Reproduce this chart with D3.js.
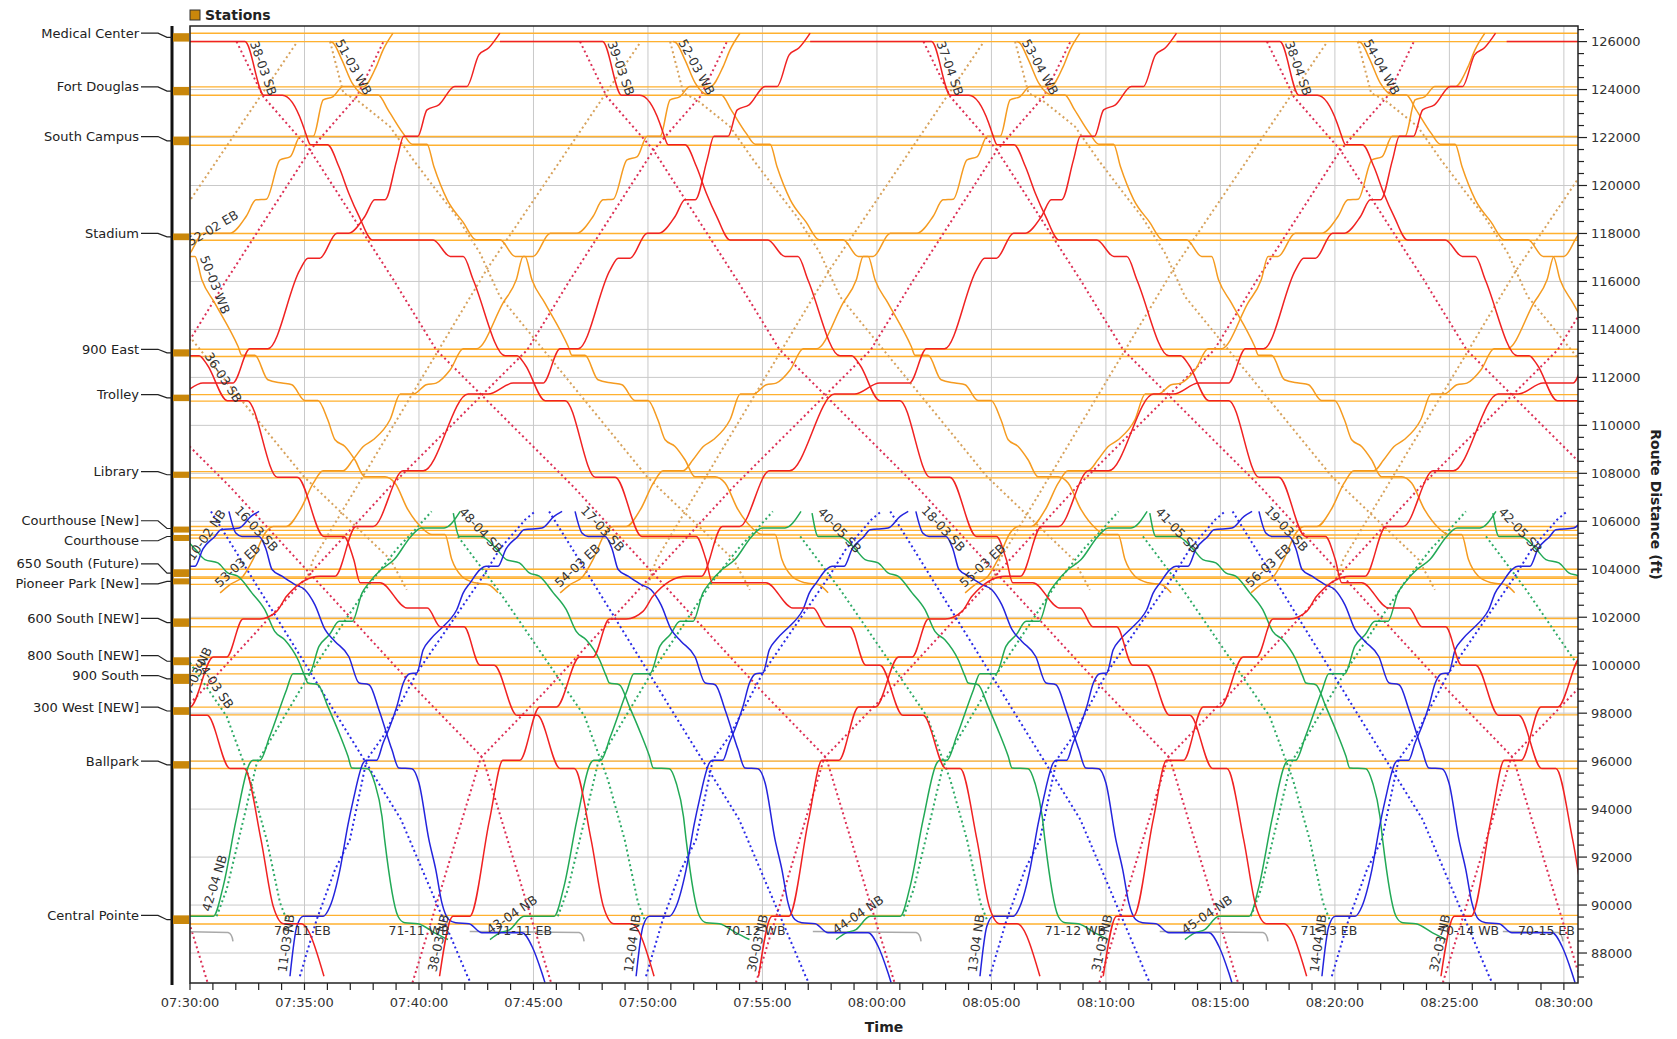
<!DOCTYPE html>
<html><head><meta charset="utf-8">
<script src="https://cdn.jsdelivr.net/npm/d3@7"></script>
<style>
body{margin:0;background:#fff;}
text{font-family:"DejaVu Sans",Verdana,sans-serif;}
</style></head><body>
<svg id="chart" width="1677" height="1039"></svg>
<script>
// ---------------- stations (route distance of the two platform ends, ft) ----------------
const stations = [
  {name:"Medical Center",      top:126350, bottom:126000},
  {name:"Fort Douglas",        top:124110, bottom:123760},
  {name:"South Campus",        top:122040, bottom:121680},
  {name:"Stadium",             top:118000, bottom:117720},
  {name:"900 East",            top:113170, bottom:112870},
  {name:"Trolley",             top:111280, bottom:111010},
  {name:"Library",             top:108070, bottom:107810},
  {name:"Courthouse [New]",    top:105780, bottom:105620},
  {name:"Courthouse",          top:105430, bottom:105300},
  {name:"650 South (Future)",  top:104000, bottom:103680},
  {name:"Pioneer Park [New]",  top:103620, bottom:103370},
  {name:"600 South [NEW]",     top:101950, bottom:101600},
  {name:"800 South [NEW]",     top:100330, bottom:100000},
  {name:"900 South",           top:99640,  bottom:99220},
  {name:"300 West [NEW]",      top:98250,  bottom:97930},
  {name:"Ballpark",            top:96000,  bottom:95690},
  {name:"Central Pointe",      top:89570,  bottom:89210}
];

// axis ticks
const distanceTicks = [88000,90000,92000,94000,96000,98000,100000,102000,104000,106000,108000,
  110000,112000,114000,116000,118000,120000,122000,124000,126000];
const timeTicks = ["07:30:00","07:35:00","07:40:00","07:45:00","07:50:00","07:55:00","08:00:00",
  "08:05:00","08:10:00","08:15:00","08:20:00","08:25:00","08:30:00"];

// ---------------- running profiles: [seconds after trip start, route distance ft] ----------------
const redSB = [[0,126000],[50,123760],[98,123760],[150,122600],[159,122180],[172,121700],[216,121700],
  [246,120790],[272,119680],[299,118710],[334,117730],[433,117730],[478,117040],[512,117040],[538,116070],
  [622,112900],[653,112900],[674,112525],[727,111030],[779,111030],[858,107840],[910,107840],[980,105370],
  [1032,105370],[1058,104405],[1075,103434],[1127,103434],[1198,102384],[1251,102384],[1285,101600],
  [1347,101600],[1389,100000],[1426,100000],[1486,97910],[1539,97910],[1599,95690],[1636,95690],
  [1680,92728],[1712,89948],[1740,89216],[1785,89216],[1845,87032]];
const redNB = [[0,87032],[35,89533],[79,89533],[131,93561],[166,96032],[210,96032],[262,98259],[306,98259],
  [367,100338],[402,100338],[445,101929],[489,101929],[533,102246],[559,102872],[647,103709],[686,103709],
  [741,105784],[786,105784],[865,108106],[917,108106],[1035,111304],[1087,111304],[1153,111762],[1231,111762],
  [1276,113192],[1323,113192],[1407,116485],[1428,116972],[1459,116972],[1504,118014],[1535,118014],
  [1577,118706],[1603,119402],[1630,119402],[1661,121069],[1679,122053],[1716,122053],[1740,123153],
  [1771,123362],[1813,124124],[1844,124124],[1876,125446],[1902,125740],[1931,126350]];
const orangeWB = [[0,126000],[8,125946],[31,125237],[58,124266],[92,123778],[126,123778],[152,123153],
  [191,122182],[215,121724],[254,121724],[272,120790],[307,119402],[348,118485],[383,117735],[445,117735],
  [485,117039],[511,117039],[529,116068],[563,115096],[624,113288],[634,112920],[668,112920],[702,111900],
  [739,111762],[765,111691],[799,111040],[833,111040],[859,110232],[878,109398],[904,109119],[930,108565],
  [956,107860],[1009,107860],[1035,107593],[1069,106482],[1106,105718],[1132,105450],[1166,105450],
  [1184,104405],[1210,103709],[1245,103434],[1279,103362],[1305,103016]];
const orangeEB = [[0,103016],[26,103362],[60,103709],[86,104405],[118,105510],[139,105784],[173,105784],
  [210,106482],[244,107593],[270,108106],[322,108106],[348,108565],[375,109119],[401,109398],[445,110232],
  [472,111304],[506,111304],[540,111691],[566,111762],[603,112317],[637,113192],[671,113192],[741,115096],
  [776,116068],[794,117039],[820,117039],[865,118014],[935,118014],[977,118706],[1003,119402],[1030,119430],
  [1066,121069],[1093,121207],[1119,122053],[1153,122053],[1179,123570],[1205,123708],[1231,124124],
  [1284,124124],[1318,124958],[1336,125654],[1362,126350]];
const greenNB = [[0,88562],[26,88841],[52,88979],[89,89533],[168,89533],[194,90781],[228,93561],[264,95924],
  [272,96032],[290,96032],[316,97034],[360,98980],[377,99646],[419,99646],[445,100783],[472,101267],
  [498,101829],[532,101829],[558,103016],[576,103434],[608,103987],[642,104405],[686,105369],[713,105718],
  [773,105718],[815,106411]];
const greenSB = [[0,106345],[16,105369],[73,105369],[113,104849],[139,104405],[173,104264],[199,103847],
  [225,103709],[262,103016],[296,102313],[322,101408],[348,101061],[383,100228],[401,99533],[409,99258],
  [435,99188],[461,98284],[487,97314],[514,96201],[524,95716],[566,95687],[584,95091],[603,93699],
  [610,92728],[645,89533],[663,89258],[697,89216],[741,88841],[776,88562]];
const blueNB = [[0,87032],[18,89116],[35,89533],[87,89533],[105,89948],[131,91478],[152,93353],[166,94395],
  [192,95924],[199,96032],[227,96032],[244,96759],[262,97451],[280,98284],[297,99258],[314,99646],
  [332,99675],[349,100644],[367,101061],[402,101621],[419,101900],[437,102313],[454,103016],[472,103434],
  [498,103987],[514,104124],[545,104124],[566,104849],[597,105369],[613,105647],[660,105718],[692,106203],
  [713,106411]];
const blueSB = [[0,106411],[18,105510],[34,105369],[79,105369],[97,104849],[113,103987],[139,103709],
  [173,103362],[199,103146],[225,102527],[252,101480],[278,100990],[314,100364],[341,99258],[367,99188],
  [393,98147],[427,96481],[445,95716],[479,95687],[498,95091],[524,92728],[542,91478],[558,90090],
  [576,89395],[594,89258],[629,89216],[663,88841],[768,88841],[794,88283],[820,87174],[828,86770]];

// scheduled (planned) running, no dwell
const redSBPlan = [[0,126000],[70,123708],[192,121486],[411,116068],[523,113150],[882,107453],[1380,98850],
  [1545,96140],[1668,89680],[1724,86770]];
const redNBPlan = [[0,86770],[56,89680],[179,96140],[344,98850],[842,107453],[1201,113150],[1313,116068],
  [1532,121486],[1654,123708],[1724,126000]];
const orangeWBPlan = [[0,126000],[35,123849],[70,123570],[157,122457],[218,121069],[271,119956],[332,118706],
  [393,117181],[445,115372],[830,107869],[1057,104405],[1100,103146]];
const orangeEBPlan = [[0,103146],[26,104405],[480,116485],[882,125946]];
const greenNBPlan = [[0,89533],[26,90644],[70,93561],[105,95924],[244,99646],[402,103434],[472,104849],
  [524,105718],[563,106411]];
const greenSBPlan = [[0,105369],[105,103146],[332,97868],[393,95230],[437,92728],[472,90090],[489,89395]];
const blueNBPlan = [[0,87032],[44,89395],[92,91478],[131,92728],[175,96062],[218,97034],[306,99675],
  [480,103709],[524,104849],[590,106063],[616,106411]];
const blueSBPlan = [[0,106411],[61,104849],[498,93561],[672,87032],[680,86770]];

// ---------------- trips ----------------
// holds: [profile point index, extra dwell seconds]
const redTrips = [
  {id:null,       dir:"SB", start:"07:05:06"},
  {id:"36-03 SB", dir:"SB", start:"07:19:31"},
  {id:"38-03 SB", dir:"SB", start:"07:32:24", layover:"07:20:00", holds:[[11,60],[23,90],[26,88]]},
  {id:"39-03 SB", dir:"SB", start:"07:48:01", layover:"07:43:32"},
  {id:"37-04 SB", dir:"SB", start:"08:02:23", layover:"07:57:05"},
  {id:"38-04 SB", dir:"SB", start:"08:17:36", layover:"08:13:05"},
  {id:null,       dir:"SB", start:"08:33:00", layover:"08:27:30"},
  {id:null,       dir:"NB", start:"07:11:21"},
  {id:"37-03 NB", dir:"NB", start:"07:24:54"},
  {id:"38-03 NB", dir:"NB", start:"07:40:54"},
  {id:"30-03 NB", dir:"NB", start:"07:54:50"},
  {id:"31-03 NB", dir:"NB", start:"08:09:53"},
  {id:"32-03 NB", dir:"NB", start:"08:24:38"}
];
const orangeTrips = [
  {id:"50-03 WB", dir:"WB", start:"07:21:42"},
  {id:"51-03 WB", dir:"WB", start:"07:36:07"},
  {id:"52-03 WB", dir:"WB", start:"07:51:06"},
  {id:"53-04 WB", dir:"WB", start:"08:06:06"},
  {id:"54-04 WB", dir:"WB", start:"08:21:01"},
  {id:"52-02 EB", dir:"EB", start:"07:16:10"},
  {id:"53-03 EB", dir:"EB", start:"07:31:19"},
  {id:"54-03 EB", dir:"EB", start:"07:46:10"},
  {id:"55-03 EB", dir:"EB", start:"08:03:51"},
  {id:"56-03 EB", dir:"EB", start:"08:16:20"}
];
const greenTrips = [
  {id:"42-04 NB", dir:"NB", start:"07:28:13"},
  {id:"43-04 NB", dir:"NB", start:"07:43:06"},
  {id:"44-04 NB", dir:"NB", start:"07:58:13"},
  {id:"45-04 NB", dir:"NB", start:"08:13:27"},
  {id:null,       dir:"SB", start:"07:28:20"},
  {id:"48-04 SB", dir:"SB", start:"07:41:30"},
  {id:"40-05 SB", dir:"SB", start:"07:57:10"},
  {id:"41-05 SB", dir:"SB", start:"08:11:55"},
  {id:"42-05 SB", dir:"SB", start:"08:26:54"}
];
const blueTrips = [
  {id:"10-02 NB", dir:"NB", start:"07:21:08"},
  {id:"11-03 NB", dir:"NB", start:"07:34:22"},
  {id:"12-04 NB", dir:"NB", start:"07:49:29"},
  {id:"13-04 NB", dir:"NB", start:"08:04:30"},
  {id:"14-04 NB", dir:"NB", start:"08:19:26"},
  {id:"16-03 SB", dir:"SB", start:"07:31:42"},
  {id:"17-03 SB", dir:"SB", start:"07:46:49"},
  {id:"18-03 SB", dir:"SB", start:"08:01:42"},
  {id:"19-03 SB", dir:"SB", start:"08:16:41"}
];
const redPlanSB = ["07:02:02","07:17:02","07:32:02","07:47:02","08:02:02","08:17:02"];
const redPlanNB = ["07:09:43","07:24:43","07:39:43","07:54:43","08:09:43","08:24:43"];
const orangePlanWB = ["07:21:08","07:36:07","07:50:58","08:06:02","08:21:00"];
const orangePlanEB = ["07:19:57","07:34:57","07:49:56","08:04:56","08:19:56"];
const greenPlanNB = ["07:31:10","07:46:04","08:01:10","08:16:20"];
const greenPlanSB = ["07:26:04","07:41:42","07:56:39","08:11:37","08:26:36"];
const bluePlanNB = ["07:34:48","07:49:55","08:04:56","08:19:52"];
const bluePlanSB = ["07:30:55","07:45:41","08:00:35","08:15:32"];
const planLabels = [{id:"34-03 SB", set:"greenSB", start:"07:26:04"}];

// streetcar moves below Central Pointe: [from, to]
const grayRuns = [
  ["07:29:00","07:31:50"],
  ["07:42:13","07:47:10"],
  ["07:57:12","08:01:53"],
  ["08:12:21","08:17:02"],
  ["08:27:20","08:29:55"]
];
const grayLabels = [["07:33:40","70-11 EB"],["07:38:40","71-11 WB"],["07:43:20","71-11 EB"],
  ["07:53:20","70-12 WB"],["08:07:20","71-12 WB"],["08:18:30","71-13 EB"],["08:24:30","70-14 WB"],
  ["08:28:00","70-15 EB"]];

// ---------------- drawing ----------------
const parse = d3.timeParse("%H:%M:%S");
const L = 190, R = 1578, T = 26, B = 983;
const x = d3.scaleTime().domain([parse("07:30:00"), parse("08:30:37")]).range([L, R]);
const y = d3.scaleLinear().domain([86750, 126650]).range([B, T]);

const svg = d3.select("#chart");
svg.append("defs").append("clipPath").attr("id","plot")
  .append("rect").attr("x",L).attr("y",T).attr("width",R-L).attr("height",B-T);

const colors = {
  red:"#f02222", redPlan:"#dc2f55",
  orange:"#f59b20", orangePlan:"#d7a25c",
  green:"#22a956", greenPlan:"#2eaa66",
  blue:"#2424dd", bluePlan:"#2a2ae6",
  station:"#ffb12f", marker:"#c9870b", grid:"#c9c9c9"
};

// grid
const grid = svg.append("g");
grid.selectAll("line.h").data(distanceTicks).join("line")
  .attr("x1",L).attr("x2",R).attr("y1",d=>y(d)).attr("y2",d=>y(d))
  .attr("stroke",colors.grid).attr("stroke-width",1);
grid.selectAll("line.v").data(timeTicks).join("line")
  .attr("x1",d=>x(parse(d))).attr("x2",d=>x(parse(d))).attr("y1",T).attr("y2",B)
  .attr("stroke",colors.grid).attr("stroke-width",1);

// station platform lines
const stLines = svg.append("g");
stations.forEach(s=>{
  [s.top, s.bottom].forEach(v=>{
    stLines.append("line").attr("x1",L).attr("x2",R).attr("y1",y(v)).attr("y2",y(v))
      .attr("stroke",colors.station).attr("stroke-width",1.4);
  });
});

const plot = svg.append("g").attr("clip-path","url(#plot)");
const lineSmooth = d3.line().x(d=>x(d.t)).y(d=>y(d.ft)).curve(d3.curveMonotoneX);
const lineStraight = d3.line().x(d=>x(d.t)).y(d=>y(d.ft));

function build(profile, start, holds, layover){
  const t0 = +parse(start);
  const pts = [];
  if (layover) pts.push({t:parse(layover), ft:profile[0][1]});
  let extra = 0;
  profile.forEach((p,i)=>{
    pts.push({t:new Date(t0+(p[0]+extra)*1000), ft:p[1]});
    const h = holds && holds.find(q=>q[0]===i);
    if (h){ extra += h[1]; pts.push({t:new Date(t0+(p[0]+extra)*1000), ft:p[1]}); }
  });
  return pts;
}

const labelQueue = [];
function drawPlan(profile, starts, color){
  starts.forEach(s=>{
    plot.append("path").attr("d", lineStraight(build(profile, s)))
      .attr("fill","none").attr("stroke",color).attr("stroke-width",2)
      .attr("stroke-dasharray","2,3");
  });
}
function drawTrips(trips, profiles, color){
  trips.forEach(tr=>{
    const pts = build(profiles[tr.dir], tr.start, tr.holds, tr.layover);
    plot.append("path").attr("d", lineSmooth(pts))
      .attr("fill","none").attr("stroke",color).attr("stroke-width",1.5);
    if (tr.id) labelQueue.push({id:tr.id, pts});
  });
}

drawPlan(orangeWBPlan, orangePlanWB, colors.orangePlan);
drawPlan(orangeEBPlan, orangePlanEB, colors.orangePlan);
drawPlan(redSBPlan, redPlanSB, colors.redPlan);
drawPlan(redNBPlan, redPlanNB, colors.redPlan);
drawPlan(greenNBPlan, greenPlanNB, colors.greenPlan);
drawPlan(greenSBPlan, greenPlanSB, colors.greenPlan);
drawPlan(blueNBPlan, bluePlanNB, colors.bluePlan);
drawPlan(blueSBPlan, bluePlanSB, colors.bluePlan);
planLabels.forEach(p=>{
  const prof = {greenSB:greenSBPlan}[p.set];
  labelQueue.push({id:p.id, pts:build(prof, p.start)});
});

// streetcar
grayRuns.forEach(g=>{
  const a = x(parse(g[0])), b = x(parse(g[1])), yy = y(88900);
  plot.append("path").attr("d",`M${a},${yy}L${b-4},${yy+1}Q${b},${yy+2} ${b+1},${yy+10}`)
    .attr("fill","none").attr("stroke","#a9a9a9").attr("stroke-width",1.5);
});

drawTrips(orangeTrips, {WB:orangeWB, EB:orangeEB}, colors.orange);
drawTrips(greenTrips, {NB:greenNB, SB:greenSB}, colors.green);
drawTrips(blueTrips, {NB:blueNB, SB:blueSB}, colors.blue);
drawTrips(redTrips, {NB:redNB, SB:redSB}, colors.red);

// trip labels at the first visible moving part of each trip, turned to follow the line
function pointAlong(P, i, sx, sy, dist){
  let cx=sx, cy=sy, rem=dist;
  for (let j=i; j<P.length-1; j++){
    const q=P[j+1], dx=q[0]-cx, dy=q[1]-cy, d=Math.hypot(dx,dy);
    if (d>=rem) return [cx+dx*rem/d, cy+dy*rem/d];
    rem-=d; cx=q[0]; cy=q[1];
  }
  return [cx,cy];
}
const labels = svg.append("g").attr("clip-path","url(#plot)");
labelQueue.forEach(l=>{
  const P = l.pts.map(d=>[x(d.t), y(d.ft)]);
  for (let i=0;i<P.length-1;i++){
    const p=P[i], q=P[i+1];
    if (q[0] < L+2) continue;
    if (Math.abs(q[1]-p[1]) < 0.6) continue;
    let px=p[0], py=p[1];
    if (px < L){ const k=(L-p[0])/(q[0]-p[0]); px=L; py=p[1]+k*(q[1]-p[1]); }
    if (py < T || py > B || px > R) break;
    const e = pointAlong(P, i, px, py, 40);
    let ang = Math.atan2(e[1]-py, e[0]-px)*180/Math.PI;
    ang = Math.max(-82, Math.min(82, ang));
    labels.append("text").attr("transform",`translate(${px},${py}) rotate(${ang})`)
      .attr("dx",3).attr("dy",-4).attr("font-size",12.5).attr("fill","#333").text(l.id);
    break;
  }
});
grayLabels.forEach(g=>{
  labels.append("text").attr("x",x(parse(g[0]))).attr("y",y(88900)+4)
    .attr("font-size",12.5).attr("fill","#333").text(g[1]);
});

// frame
svg.append("rect").attr("x",L).attr("y",T).attr("width",R-L).attr("height",B-T)
  .attr("fill","none").attr("stroke","#222").attr("stroke-width",1.5);
svg.append("line").attr("x1",172).attr("x2",172).attr("y1",T).attr("y2",B+2)
  .attr("stroke","#111").attr("stroke-width",3);

// right axis
const rAxis = svg.append("g");
d3.range(87000, 126501, 500).forEach(v=>{
  const major = v % 2000 === 0;
  rAxis.append("line").attr("x1",R).attr("x2",R+(major?9:6)).attr("y1",y(v)).attr("y2",y(v))
    .attr("stroke","#222").attr("stroke-width",1.2);
});
rAxis.selectAll("text").data(distanceTicks).join("text")
  .attr("x",R+13).attr("y",d=>y(d)+4.5).attr("font-size",13).attr("fill","#333").text(d=>d);
svg.append("text").attr("transform",`translate(1651,${(T+B)/2}) rotate(90)`)
  .attr("text-anchor","middle").attr("font-size",14).attr("font-weight","bold").attr("fill","#222")
  .text("Route Distance (ft)");

// bottom axis
const bAxis = svg.append("g");
d3.timeMinute.range(parse("07:30:00"), parse("08:30:30")).forEach(t=>{
  bAxis.append("line").attr("x1",x(t)).attr("x2",x(t)).attr("y1",B).attr("y2",B+7)
    .attr("stroke","#222").attr("stroke-width",1.2);
});
bAxis.selectAll("text").data(timeTicks).join("text")
  .attr("x",d=>x(parse(d))).attr("y",B+24).attr("text-anchor","middle")
  .attr("font-size",13).attr("fill","#333").text(d=>d);
svg.append("text").attr("x",(L+R)/2).attr("y",1032).attr("text-anchor","middle")
  .attr("font-size",14).attr("font-weight","bold").attr("fill","#222").text("Time");

// station markers and names
const st = svg.append("g");
const lab = stations.map(s=>({s, ly:y(s.top), my:(y(s.top)+y(s.bottom))/2}));
for (let it=0; it<60; it++){
  for (let i=0;i<lab.length-1;i++){
    const a=lab[i], b=lab[i+1];
    if (b.ly - a.ly < 20){ const d=(20-(b.ly-a.ly))/2; a.ly-=d; b.ly+=d; }
  }
}
lab.forEach(o=>{
  const yt=y(o.s.top), yb=y(o.s.bottom);
  st.append("rect").attr("x",173).attr("y",yt).attr("width",16).attr("height",Math.max(6,yb-yt))
    .attr("fill",colors.marker);
  st.append("path").attr("d",`M141,${o.ly}L158,${o.ly}L167,${o.my}L172,${o.my}`)
    .attr("fill","none").attr("stroke","#222").attr("stroke-width",1.2);
  st.append("text").attr("x",139).attr("y",o.ly+4.5).attr("text-anchor","end")
    .attr("font-size",13).attr("fill","#222").text(o.s.name);
});

// legend
svg.append("rect").attr("x",190).attr("y",10).attr("width",10).attr("height",10)
  .attr("fill",colors.marker).attr("stroke","#333").attr("stroke-width",1);
svg.append("text").attr("x",205).attr("y",20).attr("font-size",14).attr("font-weight","bold")
  .attr("fill","#222").text("Stations");
</script>
</body></html>
